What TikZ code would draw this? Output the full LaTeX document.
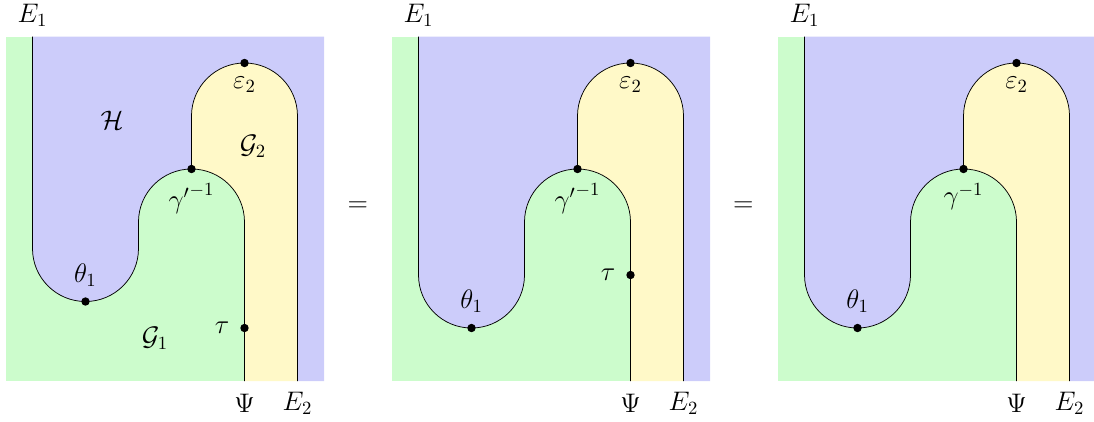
\documentclass[tikz,border=0pt]{standalone}
\usepackage{amsmath,amssymb}
\usetikzlibrary{positioning}
\usepackage{xcolor}
\definecolor{regH}{RGB}{204,204,250}
\definecolor{regG}{RGB}{204,252,204}
\definecolor{regY}{RGB}{255,249,200}

% one panel: #1 shift, #2 height of theta, #3 label of the unit
\newcommand{\strands}[3]{%
\begin{scope}[xshift=#1cm,name prefix=#1-]
\fill[regG] (0,0) rectangle (6,6.5);
\fill[regH] (0.5,6.5) -- (0.5,#2+1) arc[start angle=180,end angle=360,radius=1] -- (2.5,3) arc[start angle=180,end angle=90,radius=1] -- (3.5,5) arc[start angle=180,end angle=0,radius=1] -- (5.5,0) -- (6,0) -- (6,6.5) -- cycle;
\fill[regY] (3.5,4) -- (3.5,5) arc[start angle=180,end angle=0,radius=1] -- (5.5,0) -- (4.5,0) -- (4.5,3) arc[start angle=0,end angle=90,radius=1] -- cycle;
\draw (0.5,6.5) -- (0.5,#2+1) arc[start angle=180,end angle=360,radius=1] -- (2.5,3) arc[start angle=180,end angle=0,radius=1] -- (4.5,0);
\draw (3.5,4) -- (3.5,5) arc[start angle=180,end angle=0,radius=1] -- (5.5,0);
\node[dot] (th) at (1.5,#2) {};
\node[dot] (ga) at (3.5,4) {};
\node[dot] (ep) at (4.5,6) {};
\node[above=5.5pt of th,lbl] (thl) {$\theta_1$};
\node[below=5pt of ga,lbl] (gal) {$#3$};
\node[below=5pt of ep,lbl] (epl) {$\varepsilon_2$};
\node (E1) at (0.5,6.9) {$E_1$};
\node (Psi) at (4.5,-0.42) {$\Psi$};
\node (E2) at (5.5,-0.42) {$E_2$};
\end{scope}}

\begin{document}
\begin{tikzpicture}[font=\fontsize{14}{17}\selectfont,
  dot/.style={circle,fill,inner sep=0pt,minimum size=4.5pt},
  lbl/.style={inner sep=0pt}]
\useasboundingbox (-0.113,-0.755) rectangle (20.528,7.189);
\strands{0}{1.5}{{\gamma'}^{-1}}
\strands{7.283}{1}{{\gamma'}^{-1}}
\strands{14.566}{1}{\gamma^{-1}}
% extra labels
\node (H) at (2.0,4.92) {$\mathcal{H}$};
\node (G2) at (4.66,4.42) {$\mathcal{G}_2$};
\node (G1) at (2.81,0.81) {$\mathcal{G}_1$};
\node[dot] (tau1) at (4.5,1) {};
\node[left=5.5pt of tau1,lbl] (tau1l) {$\tau$};
\node[dot] (tau2) at (11.783,2) {};
\node[left=5.5pt of tau2,lbl] (tau2l) {$\tau$};
\node (eq1) at (6.64,3.29) {$=$};
\node (eq2) at (13.91,3.29) {$=$};
\end{tikzpicture}
\end{document}
